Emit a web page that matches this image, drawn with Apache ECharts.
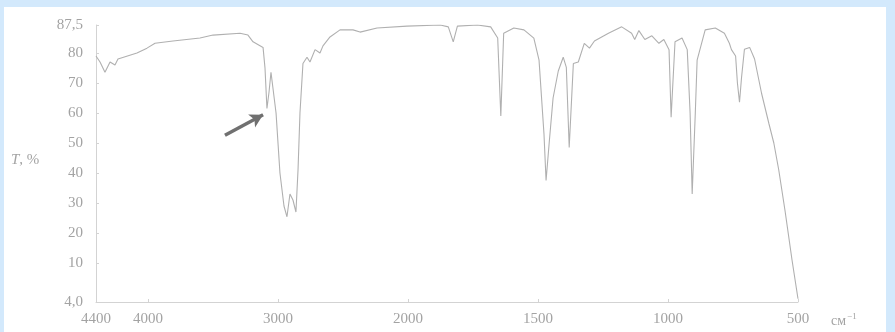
<!DOCTYPE html>
<html>
<head>
<meta charset="utf-8">
<script src="https://cdn.jsdelivr.net/npm/echarts@6/dist/echarts.min.js"></script>
<style>
html,body{margin:0;padding:0;background:#d3e9fc;}
#c{width:895px;height:332px;}
</style>
</head>
<body>
<div id="c"></div>
<script>
// ---- data (wavenumber cm^-1, transmittance %) ----
const wavenumbers = [4400,4369,4331,4292,4254,4231,4085,4008,3946,3808,3600,3500,3292,3231,3192,3115,3100,3085,3069,3054,3015,2985,2954,2931,2908,2885,2862,2846,2831,2808,2777,2754,2715,2677,2654,2600,2523,2423,2369,2238,2008,1876,1845,1826,1810,1733,1682,1655,1643,1632,1593,1554,1516,1496,1477,1469,1457,1442,1422,1403,1391,1380,1364,1345,1322,1302,1283,1229,1178,1140,1128,1112,1089,1062,1035,1016,996,988,973,946,926,915,907,895,888,857,818,783,764,756,740,733,725,717,706,686,667,640,612,593,574,550,523,500];
const transmittance = [79,77,73.6,77,76,78,80,81.3,82.6,83.2,84,84.8,85.3,84.8,83,81.5,75,61.5,67,73.6,60,40,29,25.4,33,31,27,41,60,76.5,78.6,77,80.9,80,81.9,84.3,86.2,86.2,85.6,86.7,87.2,87.5,87,83,87.2,87.5,87,84,59,85.3,86.7,86.2,84,77.6,53,37.5,50,65,74,78.6,75.2,48.5,76.5,77,82.6,81.3,83.2,85.3,87,85.3,83.6,86,83.6,84.6,82.6,83.6,80.9,58.6,83,84,80.9,60,33,60,77.6,86.2,86.7,85.3,82.6,80.9,79,70,63.6,72,81,81.5,78,66.5,56.5,50,41,27.5,11,4.5];

// tick labels
const xTickValues = [4400,4000,3000,2000,1500,1000,500];
const xTickLabels = ['4400','4000','3000','2000','1500','1000','500'];
const yTickValues = [4,10,20,30,40,50,60,70,80,87.5];
const yTickLabels = ['4,0','10','20','30','40','50','60','70','80','87,5'];

// annotation arrow (wavenumber, T)
const arrowFrom = [3408, 52.6];
const arrowTo = [3115, 59.4];

// ---- axis scale breaks (piecewise linear, as in the printed chart) ----
const xBreakW = [4400, 2000, 500], xBreakPos = [0, 312, 702];
const yBreakT = [4, 10, 80, 87.5], yBreakPos = [0, 39, 249, 277];
function interp(v, a, b){
  for (let i=0;i<a.length-1;i++){
    const lo=Math.min(a[i],a[i+1]), hi=Math.max(a[i],a[i+1]);
    if (v>=lo && v<=hi){ return b[i]+(v-a[i])*(b[i+1]-b[i])/(a[i+1]-a[i]); }
  }
  const i = (Math.abs(v-a[0])<Math.abs(v-a[a.length-1]))?0:a.length-2;
  return b[i]+(v-a[i])*(b[i+1]-b[i])/(a[i+1]-a[i]);
}
const xs = w => interp(w, xBreakW, xBreakPos);
const ys = t => interp(t, yBreakT, yBreakPos);

const seriesData = wavenumbers.map((w,i)=>[xs(w), ys(transmittance[i])]);
const xCustom = xTickValues.map(xs);
const yCustom = yTickValues.map(ys);
function lookup(v, vals, labels){
  let best=0; for(let i=1;i<vals.length;i++){ if(Math.abs(vals[i]-v)<Math.abs(vals[best]-v)) best=i; }
  return labels[best];
}

const txt = '#a3a3a3';
const serif = '"Liberation Serif","DejaVu Serif",serif';
const chart = echarts.init(document.getElementById('c'));
chart.setOption({
  backgroundColor: '#d3e9fc',
  animation: false,
  graphic: [
    {type:'rect', z:-10, shape:{x:4,y:7,width:882,height:325}, style:{fill:'#ffffff'}, silent:true},
    {type:'text', left:11, top:153, style:{text:'{i|T}, %', fill:txt, font:'15px '+serif,
      rich:{i:{fontStyle:'italic', fill:txt, fontSize:15, fontFamily:serif}}}},
    {type:'text', left:831, top:312, style:{text:'см{s|−1}', fill:txt, font:'14px '+serif,
      rich:{s:{fontSize:9, fill:txt, fontFamily:serif, verticalAlign:'top', padding:[0,0,9,1]}}}}
  ],
  grid: {left:96, right:97, top:25, bottom:30},
  xAxis: {
    type:'value', min:0, max:702,
    splitLine:{show:false},
    axisLine:{show:true, lineStyle:{color:'#d3d3d3', width:1}},
    axisTick:{show:true, inside:true, length:3, customValues:xCustom, lineStyle:{color:'#d3d3d3'}},
    axisLabel:{customValues:xCustom, formatter:v=>lookup(v,xCustom,xTickLabels),
      color:txt, fontFamily:serif, fontSize:15, margin:10}
  },
  yAxis: {
    type:'value', min:0, max:277,
    splitLine:{show:false},
    axisLine:{show:true, lineStyle:{color:'#d3d3d3', width:1}},
    axisTick:{show:true, inside:true, length:3, customValues:yCustom, lineStyle:{color:'#d3d3d3'}},
    axisLabel:{customValues:yCustom, formatter:v=>lookup(v,yCustom,yTickLabels),
      color:txt, fontFamily:serif, fontSize:15, margin:13}
  },
  series: [{
    type:'line', data:seriesData, showSymbol:false, smooth:false,
    lineStyle:{color:'#b0b0b0', width:1.1},
    markLine:{
      silent:true, symbol:['none','arrow'], symbolSize:[11,13],
      label:{show:false},
      lineStyle:{color:'#707070', width:3.5, type:'solid'},
      data:[[{coord:[xs(arrowFrom[0]), ys(arrowFrom[1])]},{coord:[xs(arrowTo[0]), ys(arrowTo[1])]}]]
    }
  }]
});
</script>
</body>
</html>
